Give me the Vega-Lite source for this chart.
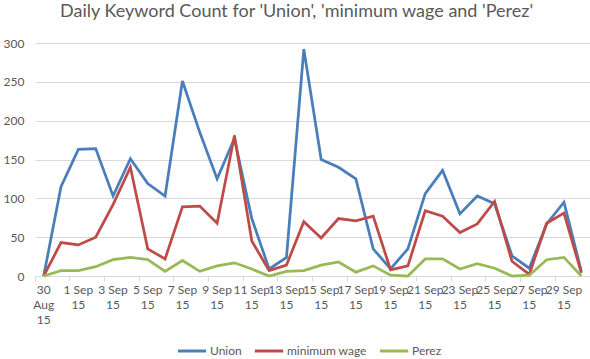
{
  "$schema": "https://vega.github.io/schema/vega-lite/v6.json",
  "autosize": {"type": "none"},
  "padding": {"left": 35, "top": 43, "right": 0, "bottom": 83},
  "width": 555,
  "height": 233,
  "background": "white",
  "title": {
    "text": "Daily Keyword Count for 'Union', 'minimum wage and 'Perez'",
    "font": "Lato",
    "fontSize": 18,
    "fontWeight": "normal",
    "color": "#595959",
    "anchor": "middle",
    "frame": "bounds",
    "offset": 16
  },
  "config": {
    "view": {"stroke": null},
    "font": "Lato"
  },
  "data": {
    "values": [
      {"d": "30 Aug 15", "Union": 0, "minimum wage": 0, "Perez": 0},
      {"d": "31 Aug 15", "Union": 115, "minimum wage": 43, "Perez": 7},
      {"d": "1 Sep 15", "Union": 163, "minimum wage": 40, "Perez": 7},
      {"d": "2 Sep 15", "Union": 164, "minimum wage": 50, "Perez": 12},
      {"d": "3 Sep 15", "Union": 103, "minimum wage": 92, "Perez": 21},
      {"d": "4 Sep 15", "Union": 151, "minimum wage": 140, "Perez": 24},
      {"d": "5 Sep 15", "Union": 119, "minimum wage": 35, "Perez": 21},
      {"d": "6 Sep 15", "Union": 103, "minimum wage": 22, "Perez": 6},
      {"d": "7 Sep 15", "Union": 251, "minimum wage": 89, "Perez": 20},
      {"d": "8 Sep 15", "Union": 185, "minimum wage": 90, "Perez": 6},
      {"d": "9 Sep 15", "Union": 125, "minimum wage": 68, "Perez": 13},
      {"d": "10 Sep 15", "Union": 177, "minimum wage": 181, "Perez": 17},
      {"d": "11 Sep 15", "Union": 74, "minimum wage": 45, "Perez": 9},
      {"d": "12 Sep 15", "Union": 9, "minimum wage": 7, "Perez": 0},
      {"d": "13 Sep 15", "Union": 24, "minimum wage": 14, "Perez": 6},
      {"d": "14 Sep 15", "Union": 292, "minimum wage": 70, "Perez": 7},
      {"d": "15 Sep 15", "Union": 150, "minimum wage": 49, "Perez": 14},
      {"d": "16 Sep 15", "Union": 140, "minimum wage": 74, "Perez": 18},
      {"d": "17 Sep 15", "Union": 125, "minimum wage": 71, "Perez": 5},
      {"d": "18 Sep 15", "Union": 35, "minimum wage": 77, "Perez": 13},
      {"d": "19 Sep 15", "Union": 9, "minimum wage": 8, "Perez": 1},
      {"d": "20 Sep 15", "Union": 35, "minimum wage": 13, "Perez": 0},
      {"d": "21 Sep 15", "Union": 106, "minimum wage": 84, "Perez": 22},
      {"d": "22 Sep 15", "Union": 136, "minimum wage": 77, "Perez": 22},
      {"d": "23 Sep 15", "Union": 80, "minimum wage": 56, "Perez": 9},
      {"d": "24 Sep 15", "Union": 103, "minimum wage": 67, "Perez": 16},
      {"d": "25 Sep 15", "Union": 93, "minimum wage": 96, "Perez": 10},
      {"d": "26 Sep 15", "Union": 26, "minimum wage": 19, "Perez": 0},
      {"d": "27 Sep 15", "Union": 10, "minimum wage": 2, "Perez": 1},
      {"d": "28 Sep 15", "Union": 67, "minimum wage": 68, "Perez": 21},
      {"d": "29 Sep 15", "Union": 95, "minimum wage": 81, "Perez": 24},
      {"d": "30 Sep 15", "Union": 6, "minimum wage": 4, "Perez": 0}
    ]
  },
  "transform": [
    {"fold": ["Union", "minimum wage", "Perez"], "as": ["series", "count"]}
  ],
  "resolve": {"axis": {"x": "independent"}},
  "layer": [
    {
      "mark": {"type": "rule", "opacity": 0},
      "encoding": {
        "x": {
          "field": "d",
          "type": "nominal",
          "sort": null,
          "scale": {"type": "band", "paddingInner": 0, "paddingOuter": 0},
          "axis": {
            "orient": "bottom",
            "title": null,
            "bandPosition": 0,
            "values": ["30 Aug 15","1 Sep 15","3 Sep 15","5 Sep 15","7 Sep 15","9 Sep 15","11 Sep 15","13 Sep 15","15 Sep 15","17 Sep 15","19 Sep 15","21 Sep 15","23 Sep 15","25 Sep 15","27 Sep 15","29 Sep 15"],
            "labels": false,
            "domainColor": "#d9d9d9",
            "tickColor": "#d9d9d9",
            "tickSize": 5,
            "grid": false
          }
        }
      }
    },
    {
      "mark": {"type": "line", "strokeWidth": 2.75, "strokeJoin": "miter"},
      "encoding": {
        "x": {
          "field": "d",
          "type": "nominal",
          "sort": null,
          "axis": {
            "orient": "bottom",
            "title": null,
            "bandPosition": 0.5,
            "values": ["30 Aug 15","1 Sep 15","3 Sep 15","5 Sep 15","7 Sep 15","9 Sep 15","11 Sep 15","13 Sep 15","15 Sep 15","17 Sep 15","19 Sep 15","21 Sep 15","23 Sep 15","25 Sep 15","27 Sep 15","29 Sep 15"],
            "labelExpr": "datum.value == '30 Aug 15' ? ['30','Aug','15'] : [split(datum.value,' ')[0] + ' ' + split(datum.value,' ')[1], '15']",
            "labelAngle": 0,
            "labelFontSize": 12,
            "labelColor": "#595959",
            "labelLineHeight": 15,
            "labelPadding": 8,
            "labelOverlap": false,
            "ticks": false,
            "domain": false,
            "grid": false
          }
        },
        "y": {
          "field": "count",
          "type": "quantitative",
          "scale": {"domain": [0, 300], "nice": false},
          "axis": {
            "title": null,
            "values": [0, 50, 100, 150, 200, 250, 300],
            "domain": false,
            "ticks": false,
            "gridColor": "#d9d9d9",
            "labelFontSize": 12,
            "labelColor": "#595959",
            "labelPadding": 11
          }
        },
        "color": {
          "field": "series",
          "type": "nominal",
          "sort": ["Union", "minimum wage", "Perez"],
          "scale": {"domain": ["Union", "minimum wage", "Perez"], "range": ["#4a7ebb", "#be4b48", "#98b954"]},
          "legend": {
            "title": null,
            "orient": "none",
            "legendX": 141,
            "legendY": 292,
            "direction": "horizontal",
            "symbolType": "stroke",
            "symbolSize": 800,
            "symbolStrokeWidth": 3,
            "labelFontSize": 12,
            "labelColor": "#595959",
            "labelOffset": 2,
            "columnPadding": 6
          }
        }
      }
    }
  ]
}
